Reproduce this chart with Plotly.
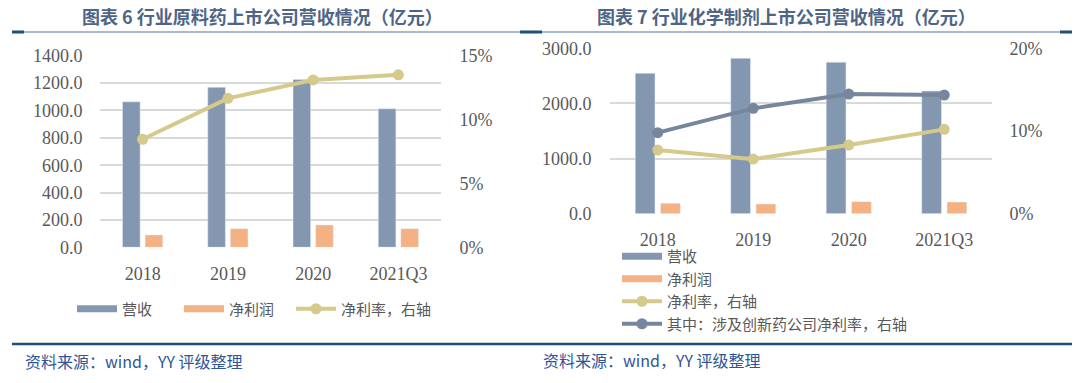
import plotly.graph_objects as go

W, H = 1080, 383

categories = ["2018", "2019", "2020", "2021Q3"]

# Chart 6: API (原料药)
api_revenue = [1063, 1169, 1227, 1012]
api_profit = [90, 136, 163, 136]
api_margin = [0.0846, 0.1166, 0.131, 0.135]

# Chart 7: chemical preparations (化学制剂)
chem_revenue = [2547, 2819, 2746, 2226]
chem_profit = [189, 176, 218, 212]
chem_margin = [0.077, 0.066, 0.083, 0.102]
chem_innov_margin = [0.098, 0.1274, 0.1447, 0.1435]

left_yticks = [0, 200, 400, 600, 800, 1000, 1200, 1400]
left_y2ticks = [0, 0.05, 0.10, 0.15]
right_yticks = [0, 1000, 2000, 3000]
right_y2ticks = [0, 0.10, 0.20]

C_REV = "#8497b0"
C_PROF = "#f4b183"
C_MARGIN = "#d5c98b"
C_INNOV = "#76869c"
C_TICK = "#595959"
C_GRID = "#d9d9d9"
C_TITLE = "#4e6585"
C_SRC = "#2f5597"
C_DARK = "#1f4e79"

TICK_FONT = dict(family="Liberation Serif", size=18, color=C_TICK)
LEG_FONT = dict(family="Noto Sans CJK SC", size=15, color=C_TICK)


def px(x):
    return x / W


def py(y):
    return 1 - y / H


fig = go.Figure()


def legend_swatch(name, color, legend, xa, ya):
    # legend-only proxy entry giving a wide rectangular swatch for bar series
    return go.Scatter(x=[None], y=[None], mode="lines", name=name,
                      line=dict(color=color, width=7), legend=legend,
                      xaxis=xa, yaxis=ya, hoverinfo="skip")


# ---- left chart ----
fig.add_trace(go.Bar(x=categories, y=api_revenue, name="营收", marker_color=C_REV,
                     xaxis="x", yaxis="y", showlegend=False))
fig.add_trace(go.Bar(x=categories, y=api_profit, name="净利润", marker_color=C_PROF,
                     xaxis="x", yaxis="y", showlegend=False))
fig.add_trace(legend_swatch("营收", C_REV, "legend", "x", "y"))
fig.add_trace(legend_swatch("净利润", C_PROF, "legend", "x", "y"))
fig.add_trace(go.Scatter(x=categories, y=api_margin, name="净利率，右轴", mode="lines+markers",
                         line=dict(color=C_MARGIN, width=4), marker=dict(size=11, color=C_MARGIN),
                         xaxis="x", yaxis="y2", legend="legend3"))

# ---- right chart ----
fig.add_trace(go.Bar(x=categories, y=chem_revenue, name="营收", marker_color=C_REV,
                     xaxis="x2", yaxis="y3", showlegend=False))
fig.add_trace(go.Bar(x=categories, y=chem_profit, name="净利润", marker_color=C_PROF,
                     xaxis="x2", yaxis="y3", showlegend=False))
fig.add_trace(legend_swatch("营收", C_REV, "legend2", "x2", "y3"))
fig.add_trace(legend_swatch("净利润", C_PROF, "legend2", "x2", "y3"))
fig.add_trace(go.Scatter(x=categories, y=chem_margin, name="净利率，右轴", mode="lines+markers",
                         line=dict(color=C_MARGIN, width=4), marker=dict(size=11, color=C_MARGIN),
                         xaxis="x2", yaxis="y4", legend="legend2"))
fig.add_trace(go.Scatter(x=categories, y=chem_innov_margin, name="其中：涉及创新药公司净利率，右轴",
                         mode="lines+markers",
                         line=dict(color=C_INNOV, width=4), marker=dict(size=11, color=C_INNOV),
                         xaxis="x2", yaxis="y4", legend="legend2"))

xcommon = dict(type="category", showgrid=False, showline=False, zeroline=False,
               tickfont=TICK_FONT, ticks="outside", ticklen=10, tickcolor="rgba(0,0,0,0)")

ycommon = dict(showline=False, zeroline=False, tickfont=TICK_FONT, ticks="outside",
               tickcolor="rgba(0,0,0,0)")

fig.update_layout(
    width=W, height=H, autosize=False,
    margin=dict(l=0, r=0, t=0, b=0, autoexpand=False),
    paper_bgcolor="white", plot_bgcolor="white",
    barmode="group", bargap=0.47, bargroupgap=0.22,
    xaxis=dict(domain=[px(100), px(441)], anchor="y", **xcommon),
    yaxis=dict(domain=[py(247.3), py(55.7)], range=[0, 1400], tickvals=left_yticks,
               ticktext=[f"{v:.1f}" for v in left_yticks], showgrid=True, gridcolor=C_GRID,
               gridwidth=1.5, ticklen=13, anchor="x", **ycommon),
    yaxis2=dict(domain=[py(247.3), py(55.7)], range=[0, 0.15], tickvals=left_y2ticks,
                ticktext=[f"{round(v*100)}%" for v in left_y2ticks], showgrid=False,
                overlaying="y", side="right", anchor="x", ticklen=14, **ycommon),
    xaxis2=dict(domain=[px(610), px(992)], anchor="y3", **xcommon),
    yaxis3=dict(domain=[py(213.7), py(48.3)], range=[0, 3000], tickvals=right_yticks,
                ticktext=[f"{v:.1f}" for v in right_yticks], showgrid=True, gridcolor=C_GRID,
                gridwidth=1.5, ticklen=14, anchor="x2", **ycommon),
    yaxis4=dict(domain=[py(213.7), py(48.3)], range=[0, 0.20], tickvals=right_y2ticks,
                ticktext=[f"{round(v*100)}%" for v in right_y2ticks], showgrid=False,
                overlaying="y3", side="right", anchor="x2", ticklen=13, **ycommon),
    legend=dict(orientation="h", x=px(72), y=py(309), xanchor="left", yanchor="middle",
                font=LEG_FONT, itemwidth=40, entrywidth=52, traceorder="normal",
                bgcolor="rgba(0,0,0,0)"),
    legend3=dict(orientation="h", x=px(291), y=py(309), xanchor="left", yanchor="middle",
                 font=LEG_FONT, itemwidth=40, traceorder="normal",
                 bgcolor="rgba(0,0,0,0)"),
    legend2=dict(orientation="v", x=px(617), y=py(240), xanchor="left", yanchor="top",
                 font=LEG_FONT, itemwidth=40, tracegroupgap=0, traceorder="normal",
                 bgcolor="rgba(0,0,0,0)"),
    showlegend=True,
)

# Titles and sources
fig.add_annotation(text="<b>图表 6 行业原料药上市公司营收情况（亿元）</b>", x=px(262), y=py(16),
                   xref="paper", yref="paper", showarrow=False, xanchor="center", yanchor="middle",
                   font=dict(family="Noto Sans CJK SC", size=18, color=C_TITLE))
fig.add_annotation(text="<b>图表 7 行业化学制剂上市公司营收情况（亿元）</b>", x=px(786), y=py(16),
                   xref="paper", yref="paper", showarrow=False, xanchor="center", yanchor="middle",
                   font=dict(family="Noto Sans CJK SC", size=18, color=C_TITLE))
fig.add_annotation(text="资料来源：wind，YY 评级整理", x=px(23), y=py(361),
                   xref="paper", yref="paper", showarrow=False, xanchor="left", yanchor="middle",
                   font=dict(family="Noto Sans CJK SC", size=16, color=C_SRC))
fig.add_annotation(text="资料来源：wind，YY 评级整理", x=px(541), y=py(360),
                   xref="paper", yref="paper", showarrow=False, xanchor="left", yanchor="middle",
                   font=dict(family="Noto Sans CJK SC", size=16, color=C_SRC))

# Separator lines
fig.add_shape(type="line", xref="paper", yref="paper", x0=px(12), x1=px(1072), y0=py(32), y1=py(32),
              line=dict(color="#8ea3bb", width=1.5))
for a, b in [(12, 24), (520, 542), (1060, 1072)]:
    fig.add_shape(type="line", xref="paper", yref="paper", x0=px(a), x1=px(b), y0=py(32), y1=py(32),
                  line=dict(color=C_DARK, width=3))
fig.add_shape(type="line", xref="paper", yref="paper", x0=px(12), x1=px(1072), y0=py(344), y1=py(344),
              line=dict(color=C_DARK, width=2.5))

fig.write_html("out.html", config={"displayModeBar": False},
               post_script="document.body.style.margin='0';document.body.style.overflow='hidden';")
